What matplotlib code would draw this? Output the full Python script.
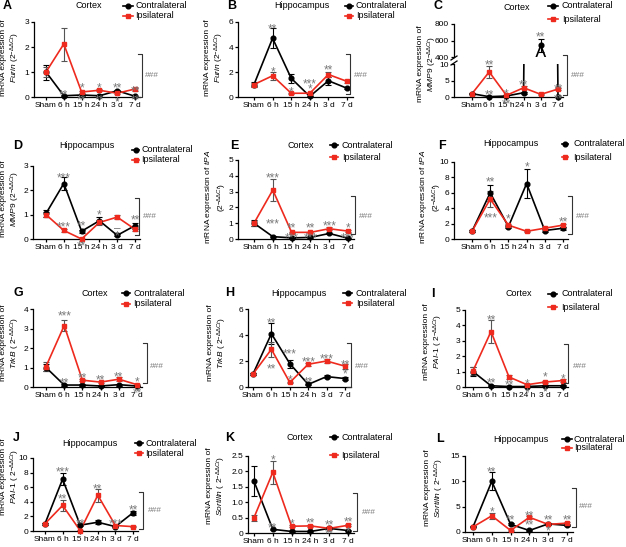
import numpy as np
import matplotlib
matplotlib.use('Agg')
import matplotlib.pyplot as plt
from matplotlib import font_manager
from matplotlib.lines import Line2D
from matplotlib.transforms import offset_copy

names = {f.name for f in font_manager.fontManager.ttflist}
NARROW = 'Liberation Sans Narrow' in names
BASE = 'Liberation Sans Narrow' if NARROW else 'Liberation Sans'
FS = 7 if NARROW else 6
plt.rcParams['font.family'] = [BASE, 'DejaVu Sans']
plt.rcParams['mathtext.fontset'] = 'custom'
plt.rcParams['mathtext.rm'] = BASE
plt.rcParams['mathtext.it'] = BASE + ':italic'
plt.rcParams['mathtext.bf'] = BASE + ':bold'

RED = '#ee2a1e'
STAR = '#7a7a7a'
SFS = 8.5

# ---------------- data ----------------
time_labels = ['Sham', '6 h', '15 h', '24 h', '3 d', '7 d']

# A  Furin, cortex
furin_ctx_contra = [1.0, 0.05, 0.08, 0.05, 0.25, 0.03]
furin_ctx_contra_err = [0.3, 0.02, 0.02, 0.02, 0.05, 0.02]
furin_ctx_ipsi = [1.0, 2.12, 0.2, 0.27, 0.15, 0.32]
furin_ctx_ipsi_err = [0.2, 0.66, 0.03, 0.04, 0.04, 0.06]
# B  Furin, hippocampus
furin_hip_contra = [1.0, 4.7, 1.5, 0.05, 1.3, 0.7]
furin_hip_contra_err = [0.2, 0.8, 0.35, 0.05, 0.3, 0.08]
furin_hip_ipsi = [1.0, 1.7, 0.3, 0.3, 1.8, 1.25]
furin_hip_ipsi_err = [0.15, 0.3, 0.05, 0.05, 0.2, 0.15]
# C  MMP9, cortex
mmp9_ctx_contra = [1.0, 0.1, 0.3, 1.3, 540, 0.1]
mmp9_ctx_contra_err = [0.2, 0.05, 0.1, 0.3, 80, 0.05]
mmp9_ctx_ipsi = [1.0, 7.6, 0.5, 2.8, 0.8, 2.4]
mmp9_ctx_ipsi_err = [0.2, 1.8, 0.2, 0.4, 0.15, 0.4]
# D  MMP9, hippocampus
mmp9_hip_contra = [1.05, 2.28, 0.32, 0.75, 0.15, 0.55]
mmp9_hip_contra_err = [0.15, 0.25, 0.06, 0.15, 0.04, 0.12]
mmp9_hip_ipsi = [1.0, 0.35, 0.0, 0.68, 0.9, 0.4]
mmp9_hip_ipsi_err = [0.1, 0.05, 0.02, 0.1, 0.08, 0.06]
# E  tPA, cortex
tpa_ctx_contra = [1.0, 0.15, 0.07, 0.1, 0.35, 0.05]
tpa_ctx_contra_err = [0.2, 0.03, 0.02, 0.02, 0.05, 0.02]
tpa_ctx_ipsi = [1.0, 3.1, 0.42, 0.42, 0.65, 0.5]
tpa_ctx_ipsi_err = [0.15, 0.72, 0.05, 0.05, 0.08, 0.06]
# F  tPA, hippocampus
tpa_hip_contra = [1.0, 6.0, 1.6, 7.2, 1.1, 1.4]
tpa_hip_contra_err = [0.15, 1.0, 0.2, 1.9, 0.15, 0.2]
tpa_hip_ipsi = [1.0, 5.2, 1.8, 1.0, 1.4, 1.8]
tpa_hip_ipsi_err = [0.15, 1.0, 0.15, 0.1, 0.15, 0.2]
# G  TrkB, cortex
trkb_ctx_contra = [1.0, 0.1, 0.1, 0.05, 0.12, 0.05]
trkb_ctx_contra_err = [0.2, 0.03, 0.03, 0.02, 0.05, 0.02]
trkb_ctx_ipsi = [1.05, 3.15, 0.35, 0.25, 0.4, 0.12]
trkb_ctx_ipsi_err = [0.25, 0.3, 0.05, 0.05, 0.1, 0.03]
# H  TrkB, hippocampus
trkb_hip_contra = [1.0, 4.1, 1.8, 0.2, 0.8, 0.65]
trkb_hip_contra_err = [0.1, 0.8, 0.3, 0.05, 0.1, 0.1]
trkb_hip_ipsi = [1.0, 2.9, 0.35, 1.75, 2.0, 1.6]
trkb_hip_ipsi_err = [0.1, 0.6, 0.05, 0.1, 0.15, 0.2]
# I  PAI-1, cortex
pai_ctx_contra = [1.0, 0.08, 0.03, 0.03, 0.08, 0.08]
pai_ctx_contra_err = [0.3, 0.02, 0.02, 0.02, 0.03, 0.03]
pai_ctx_ipsi = [1.05, 3.6, 0.65, 0.15, 0.32, 0.42]
pai_ctx_ipsi_err = [0.25, 0.75, 0.1, 0.05, 0.05, 0.1]
# J  PAI-1, hippocampus
pai_hip_contra = [1.0, 7.1, 0.8, 1.2, 0.6, 2.5]
pai_hip_contra_err = [0.15, 0.8, 0.15, 0.3, 0.1, 0.3]
pai_hip_ipsi = [1.0, 3.5, 0.05, 4.9, 0.75, 0.6]
pai_hip_ipsi_err = [0.15, 0.7, 0.05, 0.9, 0.1, 0.08]
# K  Sortilin, cortex
sort_ctx_contra = [1.68, 0.12, 0.05, 0.05, 0.15, 0.08]
sort_ctx_contra_err = [0.48, 0.02, 0.02, 0.02, 0.03, 0.02]
sort_ctx_ipsi = [0.5, 1.97, 0.22, 0.23, 0.15, 0.25]
sort_ctx_ipsi_err = [0.1, 0.37, 0.03, 0.03, 0.03, 0.03]
# L  Sortilin, hippocampus
sort_hip_contra = [1.0, 10.0, 1.5, 0.3, 1.6, 1.3]
sort_hip_contra_err = [0.1, 1.8, 0.2, 0.1, 0.2, 0.15]
sort_hip_ipsi = [1.0, 3.2, 0.3, 2.9, 1.5, 1.75]
sort_hip_ipsi_err = [0.1, 0.6, 0.05, 0.3, 0.15, 0.15]

# significance marks: (time index, y value, text)
stars_A = [(1, 0.22, '**'), (2, 0.5, '*'), (3, 0.5, '*'), (4, 0.5, '**'), (4, -0.08, '*'),
           (5, 0.37, '**'), (5, 0.0, '**'), (2, 0.02, '**'), (3, 0.02, '**')]
stars_B = [(1, 5.73, '**'), (1, 2.27, '*'), (2, 0.67, '*'), (3, 1.28, '***'), (3, 0.88, '*'), (4, 2.4, '**')]
stars_C_low = [(1, 1.5, '**'), (2, 1.8, '*'), (2, -1.0, '**'), (3, 4.6, '**'), (5, 3.6, '**'),
               (5, 0.5, '**'), (1, 10.7, '**')]
stars_C_up = [(4, 680, '**')]
stars_D = [(1, 2.66, '***'), (1, 0.64, '***'), (2, 0.68, '**'), (2, -0.14, '**'), (3, 1.12, '*'),
           (4, 0.27, '*'), (4, 0.55, '–'), (5, 0.92, '**')]
stars_E = [(1, 4.1, '***'), (1, 1.14, '***'), (2, 0.89, '**'), (2, 0.25, '***'), (3, 0.89, '**'),
           (3, 0.25, '***'), (4, 1.03, '***'), (5, 0.93, '*'), (5, 0.25, '***')]
stars_F = [(1, 7.85, '**'), (1, 3.2, '***'), (2, 3.1, '*'), (3, 9.8, '*'), (5, 2.67, '**')]
stars_G = [(1, 3.8, '***'), (1, 0.38, '**'), (2, 0.63, '**'), (3, 0.55, '**'), (4, 0.68, '**'),
           (5, 0.41, '*'), (5, -0.14, '**')]
stars_H = [(1, 5.17, '**'), (1, 1.68, '**'), (2, 2.79, '***'), (2, 0.78, '*'), (3, 2.2, '***'),
           (3, 0.65, '**'), (4, 2.45, '***'), (5, 1.94, '**'), (5, 1.24, '*')]
stars_I = [(1, 4.57, '**'), (1, 0.48, '**'), (2, 0.37, '**'), (3, 0.43, '*'), (3, -0.17, '*'),
           (4, 0.87, '*'), (4, -0.1, '*'), (5, 0.76, '*')]
stars_J = [(1, 8.53, '***'), (1, 4.9, '**'), (2, 1.47, '**'), (3, 6.2, '**'), (4, 1.47, '***'), (5, 3.4, '**')]
stars_K = [(1, 2.48, '*'), (1, 0.28, '**'), (2, 0.39, '*'), (3, 0.44, '**'), (4, 0.37, '**'),
           (4, 0.09, '**'), (5, 0.46, '**'), (5, 0.13, '*')]
stars_L = [(1, 12.6, '**'), (1, 4.7, '*'), (2, 3.1, '**'), (3, 3.9, '**'), (3, 2.0, '**'),
           (4, 2.96, '**'), (4, 0.94, '*'), (5, 3.1, '**')]

# ---------------- drawing ----------------
W, H = 626, 547
fig = plt.figure(figsize=(W / 100, H / 100), dpi=100)


def fx(x):
    return x / W


def fy(y):
    return 1 - y / H


def make_ax(L, pS, p7, T, B):
    s = (p7 - pS) / 5.0
    R = p7 + 0.3 * s
    ax = fig.add_axes([fx(L), fy(B), (R - L) / W, (B - T) / H])
    ax.set_xlim((L - pS) / s, 5.3)
    for sp in ['top', 'right']:
        ax.spines[sp].set_visible(False)
    for sp in ['left', 'bottom']:
        ax.spines[sp].set_linewidth(0.9)
    ax.tick_params(length=2.5, width=0.9, labelsize=FS, pad=1)
    ax.set_xticks(range(6))
    ax.set_xticklabels(time_labels)
    ax.patch.set_alpha(0)
    return ax


def draw_series(ax, y, err, color, marker, ecolor, ylim=None):
    x = np.arange(6)
    y = np.asarray(y, float)
    clip = ylim is not None
    eb = ax.errorbar(x, y, yerr=err, fmt='none', ecolor=ecolor, elinewidth=0.8,
                     capsize=2, capthick=0.8, zorder=2)
    for a in list(eb[1]) + list(eb[2]):
        a.set_clip_on(clip)
    ax.plot(x, y, color=color, lw=1.2, clip_on=clip, zorder=3)
    if clip:
        m = (y >= ylim[0]) & (y <= ylim[1])
    else:
        m = np.ones(6, bool)
    ax.plot(x[m], y[m], ls='none', marker=marker, ms=3.4, color=color, clip_on=False, zorder=4)


def draw_pair(ax, c, ce, i, ie, ylim=None):
    draw_series(ax, c, ce, 'black', 'o', 'black', ylim)
    draw_series(ax, i, ie, RED, 's', '#555555', ylim)


def stars(ax, lst):
    tr = offset_copy(ax.transData, fig=fig, x=0, y=-0.58 * SFS * 100 / 72, units='dots')
    for xi, yv, t in lst:
        ax.text(xi, yv, t, transform=tr, ha='center', va='baseline', fontsize=SFS,
                color=STAR, clip_on=False, zorder=5)


def bracket(x, y1, y2, tx, ty):
    fig.add_artist(Line2D([fx(x - 4), fx(x), fx(x), fx(x - 4)], [fy(y1), fy(y1), fy(y2), fy(y2)],
                          color='#333333', lw=0.8))
    fig.text(fx(tx), fy(ty), '###', ha='left', va='center', fontsize=FS, color=STAR)


def legend(x1, x2, tx, y1, y2):
    for y, c, m, lab in [(y1, 'black', 'o', 'Contralateral'), (y2, RED, 's', 'Ipsilateral')]:
        fig.add_artist(Line2D([fx(x1), fx(x2)], [fy(y), fy(y)], color=c, lw=1.2))
        fig.add_artist(Line2D([fx((x1 + x2) / 2)], [fy(y)], color=c, marker=m, ms=3.4))
        fig.text(fx(tx), fy(y), lab, ha='left', va='center', fontsize=FS + 0.5)


def heading(letter, lx, ly, title, tx, ty):
    fig.text(fx(lx), fy(ly), letter, ha='left', va='center', fontsize=9, fontweight='bold',
             family=['Liberation Sans', 'DejaVu Sans'])
    fig.text(fx(tx), fy(ty), title, ha='center', va='center', fontsize=FS + 0.5)


def ylabel(x, y, txt):
    fig.text(fx(x), fy(y), txt, rotation=90, ha='center', va='center', fontsize=FS,
             multialignment='center', linespacing=1.15)


DD = r'$^{-\Delta\Delta Ct}$'


def lab_a(gene):
    return 'mRNA expression of\n' + r'$\mathit{' + gene + '}$ (2' + DD + ')'


def lab_b(gene_tex):
    return 'mRNA expression of\n' + gene_tex + ' ( 2' + DD + ')'


# ---- A ----
ax = make_ax(34, 46, 135, 22, 97)
ax.set_ylim(0, 3); ax.set_yticks([0, 1, 2, 3])
draw_pair(ax, furin_ctx_contra, furin_ctx_contra_err, furin_ctx_ipsi, furin_ctx_ipsi_err)
stars(ax, stars_A)
heading('A', 3, 6, 'Cortex', 89, 6)
legend(123, 133, 135, 6, 16)
ylabel(11, 58, lab_a('Furin'))
bracket(142, 54, 97, 145, 76)

# ---- B ----
ax = make_ax(238, 254, 347, 22, 97)
ax.set_ylim(0, 6); ax.set_yticks([0, 2, 4, 6])
draw_pair(ax, furin_hip_contra, furin_hip_contra_err, furin_hip_ipsi, furin_hip_ipsi_err)
stars(ax, stars_B)
heading('B', 227, 6, 'Hippocampus', 302, 6)
legend(345, 353, 356, 6, 16)
ylabel(215, 58, lab_a('Furin'))
bracket(350, 54, 94, 354, 76)

# ---- C (broken axis) ----
axu = make_ax(454, 472, 558, 24, 57)
axu.set_ylim(400, 800); axu.set_yticks([400, 600, 800])
axu.spines['bottom'].set_visible(False)
axu.tick_params(axis='x', bottom=False, labelbottom=False)
draw_pair(axu, mmp9_ctx_contra, mmp9_ctx_contra_err, mmp9_ctx_ipsi, mmp9_ctx_ipsi_err, ylim=(400, 800))
stars(axu, stars_C_up)
axl = make_ax(454, 472, 558, 64, 97)
axl.set_ylim(0, 10); axl.set_yticks([0, 5, 10])
draw_pair(axl, mmp9_ctx_contra, mmp9_ctx_contra_err, mmp9_ctx_ipsi, mmp9_ctx_ipsi_err, ylim=(0, 10))
stars(axl, stars_C_low)
for yb in (58, 63):
    fig.add_artist(Line2D([fx(451), fx(457)], [fy(yb + 2), fy(yb - 2)], color='black', lw=0.9))
heading('C', 433, 6, 'Cortex', 517, 8)
legend(548, 558, 562, 6, 19)
ylabel(428, 64, lab_a('MMP9'))
bracket(567, 55, 95, 571, 76)

# ---- D ----
ax = make_ax(33, 46, 135, 166, 239)
ax.set_ylim(0, 3); ax.set_yticks([0, 1, 2, 3])
draw_pair(ax, mmp9_hip_contra, mmp9_hip_contra_err, mmp9_hip_ipsi, mmp9_hip_ipsi_err)
stars(ax, stars_D)
heading('D', 13, 146, 'Hippocampus', 87, 145)
legend(132, 139, 141, 150, 160)
ylabel(11, 199, lab_a('MMP9'))
bracket(139, 198, 235, 143, 217)

# ---- E ----
ax = make_ax(238, 254, 348, 160, 239)
ax.set_ylim(0, 5); ax.set_yticks([0, 1, 2, 3, 4, 5])
draw_pair(ax, tpa_ctx_contra, tpa_ctx_contra_err, tpa_ctx_ipsi, tpa_ctx_ipsi_err)
stars(ax, stars_E)
heading('E', 230, 146, 'Cortex', 301, 145)
legend(330, 338, 342, 145, 157)
ylabel(216, 197, r'mRNA expression of $\mathit{tPA}$' + '\n(2' + DD + ')')
bracket(355, 196, 234, 359, 216)

# ---- F ----
ax = make_ax(454, 472, 563, 162, 239)
ax.set_ylim(0, 10); ax.set_yticks([0, 2, 4, 6, 8, 10])
draw_pair(ax, tpa_hip_contra, tpa_hip_contra_err, tpa_hip_ipsi, tpa_hip_ipsi_err)
stars(ax, stars_F)
heading('F', 438, 146, 'Hippocampus', 511, 144)
legend(562, 568, 573, 144, 157)
ylabel(431, 197, r'mRNA expression of $\mathit{tPA}$' + '\n(2' + DD + ')')
bracket(572, 196, 234, 576, 216)

# ---- G ----
ax = make_ax(33, 46, 137, 309, 387)
ax.set_ylim(0, 4); ax.set_yticks([0, 1, 2, 3, 4])
draw_pair(ax, trkb_ctx_contra, trkb_ctx_contra_err, trkb_ctx_ipsi, trkb_ctx_ipsi_err)
stars(ax, stars_G)
heading('G', 13, 293, 'Cortex', 95, 293)
legend(122, 130, 133, 293, 304)
ylabel(11, 343, lab_b(r'$\mathit{TrkB}$'))
bracket(147, 343, 383, 150, 367)

# ---- H ----
ax = make_ax(248, 253, 345, 309, 387)
ax.set_ylim(0, 6); ax.set_yticks([0, 2, 4, 6])
draw_pair(ax, trkb_hip_contra, trkb_hip_contra_err, trkb_hip_ipsi, trkb_hip_ipsi_err)
stars(ax, stars_H)
heading('H', 225, 293, 'Hippocampus', 299, 293)
legend(343, 352, 356, 293, 303)
ylabel(218, 343, lab_b(r'$\mathit{TrkB}$'))
bracket(351, 343, 387, 355, 366)

# ---- I ----
ax = make_ax(465, 473, 563, 310, 387)
ax.set_ylim(0, 5); ax.set_yticks([0, 1, 2, 3, 4, 5])
draw_pair(ax, pai_ctx_contra, pai_ctx_contra_err, pai_ctx_ipsi, pai_ctx_ipsi_err)
stars(ax, stars_I)
heading('I', 431, 294, 'Cortex', 519, 294)
legend(548, 557, 561, 294, 307)
ylabel(434, 342, lab_b(r'$\mathit{PAI}$-$\mathit{1}$'))
bracket(568, 344, 383, 573, 366)

# ---- J ----
ax = make_ax(33, 45, 133, 458, 531)
ax.set_ylim(0, 10); ax.set_yticks([0, 2, 4, 6, 8, 10])
draw_pair(ax, pai_hip_contra, pai_hip_contra_err, pai_hip_ipsi, pai_hip_ipsi_err)
stars(ax, stars_J)
heading('J', 13, 438, 'Hippocampus', 90, 443)
legend(135, 143, 145, 443, 453)
ylabel(11, 477, lab_b(r'$\mathit{PAI}$-$\mathit{1}$'))
bracket(143, 492, 529, 148, 511)

# ---- K ----
ax = make_ax(248, 254, 348, 456, 533)
ax.set_ylim(0, 2.5); ax.set_yticks([0, 0.5, 1.0, 1.5, 2.0, 2.5])
ax.set_yticklabels(['0', '0.5', '1.0', '1.5', '2.0', '2.5'])
draw_pair(ax, sort_ctx_contra, sort_ctx_contra_err, sort_ctx_ipsi, sort_ctx_ipsi_err)
stars(ax, stars_K)
heading('K', 225, 438, 'Cortex', 300, 438)
legend(330, 338, 341, 437, 455)
ylabel(217, 486, lab_b(r'$\mathit{Sortilin}$'))
bracket(357, 493, 531, 362, 513)

# ---- L ----
ax = make_ax(465, 473, 567, 456, 532)
ax.set_ylim(0, 15); ax.set_yticks([0, 5, 10, 15])
draw_pair(ax, sort_hip_contra, sort_hip_contra_err, sort_hip_ipsi, sort_hip_ipsi_err)
stars(ax, stars_L)
heading('L', 436, 439, 'Hippocampus', 521, 439)
legend(562, 572, 574, 439, 448)
ylabel(435, 488, lab_b(r'$\mathit{Sortilin}$'))
bracket(576, 488, 527, 579, 507)

fig.savefig('out.png', dpi=100)
